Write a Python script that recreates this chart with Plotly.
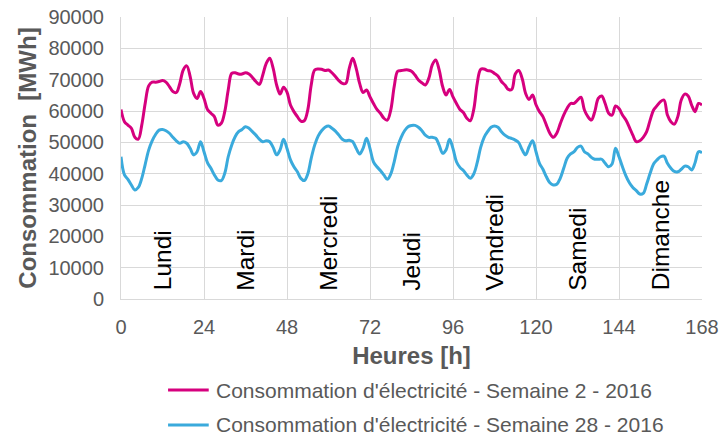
import plotly.graph_objects as go

hours = list(range(0, 169))

# Semaine 2 - 2016 (hourly, MWh)
week2 = [
    60500, 56600, 55500, 54500, 51600, 51000, 55500, 62500, 68000, 69200, 69200, 69400,
    69700, 69200, 67800, 66200, 65900, 68800, 73100, 74400, 71000, 65600, 64000, 66200,
    64000, 60500, 59300, 58200, 55500, 56100, 59800, 66700, 72000, 72200, 71800, 71800,
    72200, 71800, 70700, 69400, 68500, 71500, 75200, 76800, 73600, 68300, 65400, 67600,
    66000, 61900, 59800, 58200, 56800, 56900, 60300, 68300, 73100, 73400, 73300, 72900,
    73100, 72200, 71000, 69700, 68800, 68800, 73600, 76800, 73600, 68800, 65900, 66700,
    64500, 62400, 60500, 59300, 57700, 57100, 60300, 67800, 72700, 72900, 73100, 73100,
    72700, 71500, 69900, 69000, 68300, 70400, 74700, 76300, 73100, 67800, 65100, 66900,
    64500, 62400, 60500, 59500, 57700, 56900, 60500, 68800, 73300, 73400, 72900, 72700,
    72000, 71200, 69400, 68300, 66900, 66900, 71800, 72900, 70400, 65600, 63700, 65100,
    62000, 59800, 58200, 55500, 52900, 51600, 52900, 55900, 58700, 60900, 62400, 62400,
    63500, 64400, 60300, 58200, 57100, 59800, 64000, 64800, 62400, 59300, 58700, 61600,
    60800, 58700, 57100, 54800, 52300, 50200, 50500, 51600, 53400, 57100, 60300, 61700,
    63000, 63500, 58700, 56600, 55800, 58200, 63500, 65400, 64800, 61900, 59800, 62400,
    61900,
]

# Semaine 28 - 2016 (hourly, MWh)
week28 = [
    45400, 39600, 38200, 36400, 34800, 35600, 38500, 43000, 47500, 50500, 52500, 53900,
    54100, 53700, 52900, 51600, 50500, 49700, 50200, 49700, 48100, 46000, 47000, 50200,
    47000, 43500, 41700, 39600, 38000, 37800, 40100, 45400, 49100, 51800, 53400, 54100,
    55000, 54500, 53400, 52300, 51000, 50200, 50500, 50200, 48400, 46000, 47600, 51000,
    48000, 44400, 42200, 40600, 38500, 37800, 39900, 44900, 49100, 52000, 53700, 54800,
    55200, 54500, 53600, 52300, 51000, 50500, 50700, 50200, 48100, 46300, 48100, 51300,
    48000, 43800, 42200, 41000, 39600, 38200, 39900, 43800, 48600, 51600, 53700, 55000,
    55400, 55400, 54800, 53700, 52300, 51600, 51600, 51300, 49100, 46500, 47600, 51000,
    48000, 43800, 42000, 41000, 39600, 38500, 39900, 43500, 48400, 51600, 53400, 54800,
    55200, 54800, 53400, 52300, 51600, 51200, 50700, 49900, 47600, 46000, 48600, 50500,
    47000, 43300, 41400, 39000, 37100, 36400, 36600, 38500, 41700, 44900, 46300, 47000,
    48400, 48800, 47000, 46300, 45200, 44600, 44600, 44600, 43300, 42200, 43100, 48100,
    45400, 42200, 39300, 37100, 35600, 34600, 33500, 33700, 36700, 40100, 43100, 44400,
    45400, 45600, 43300, 41700, 40700, 40600, 41400, 42400, 42200, 41200, 43500, 47000,
    46700,
]

series_names = [
    "Consommation d'électricité - Semaine 2 - 2016",
    "Consommation d'électricité - Semaine 28 - 2016",
]
series_colors = ["#d6007e", "#3aaadc"]

days = ["Lundi", "Mardi", "Mercredi", "Jeudi", "Vendredi", "Samedi", "Dimanche"]
day_pos = [12, 36, 60, 84, 108, 132, 156]

x_ticks = [0, 24, 48, 72, 96, 120, 144, 168]
y_ticks = [0, 10000, 20000, 30000, 40000, 50000, 60000, 70000, 80000, 90000]

FONT = "Liberation Sans, Arial, sans-serif"
GREY = "#595959"
GRID = "#d9d9d9"

fig = go.Figure()
for vals, name, color in zip([week2, week28], series_names, series_colors):
    fig.add_trace(go.Scatter(
        x=hours, y=vals, mode="lines", line_shape="spline",
        name=name, line=dict(color=color, width=3), showlegend=False,
    ))

for name, pos in zip(days, day_pos):
    fig.add_annotation(
        x=pos, y=2000, text=name, textangle=-90, showarrow=False,
        xanchor="center", yanchor="bottom",
        font=dict(family=FONT, size=24.5, color="#000000"),
    )

# legend drawn below the plot (paper coords)
for i, (name, color) in enumerate(zip(series_names, series_colors)):
    ly = -0.3227 - i * 0.124
    fig.add_shape(type="line", xref="paper", yref="paper",
                  x0=0.081, x1=0.151, y0=ly, y1=ly,
                  line=dict(color=color, width=3))
    fig.add_annotation(xref="paper", yref="paper", x=0.160, y=ly, text=name,
                       showarrow=False, xanchor="left", yanchor="middle",
                       font=dict(family=FONT, size=21, color=GREY))

fig.update_layout(
    width=720, height=437,
    margin=dict(l=121, r=18, t=17, b=138),
    plot_bgcolor="white", paper_bgcolor="white",
    font=dict(family=FONT, color=GREY),
    showlegend=False,
)
fig.update_xaxes(
    range=[0, 168], tickvals=x_ticks, ticktext=[str(v) for v in x_ticks],
    showgrid=True, gridcolor=GRID, automargin=False, ticklabeloverflow="allow",
    showline=True, linecolor=GRID, zeroline=False, ticks="",
    tickfont=dict(family=FONT, size=20, color=GREY), ticklabelstandoff=10,
    title=dict(text="<b>Heures [h]</b>", font=dict(family=FONT, size=24, color=GREY), standoff=10),
)
fig.update_yaxes(
    range=[0, 90000], tickvals=y_ticks, ticktext=[str(v) for v in y_ticks],
    showgrid=True, gridcolor=GRID, automargin=False, ticklabeloverflow="allow",
    showline=True, linecolor=GRID, zeroline=False, ticks="",
    tickfont=dict(family=FONT, size=20, color=GREY), ticklabelstandoff=12,
    title=dict(text="<b>Consommation  [MWh]</b>", font=dict(family=FONT, size=24, color=GREY), standoff=4),
)

# remove the default page margin so the 720x437 figure fills the window exactly
fig.write_html(
    "out.html",
    config={"displayModeBar": False},
    post_script="document.body.style.margin='0';document.body.style.overflow='hidden';",
)
